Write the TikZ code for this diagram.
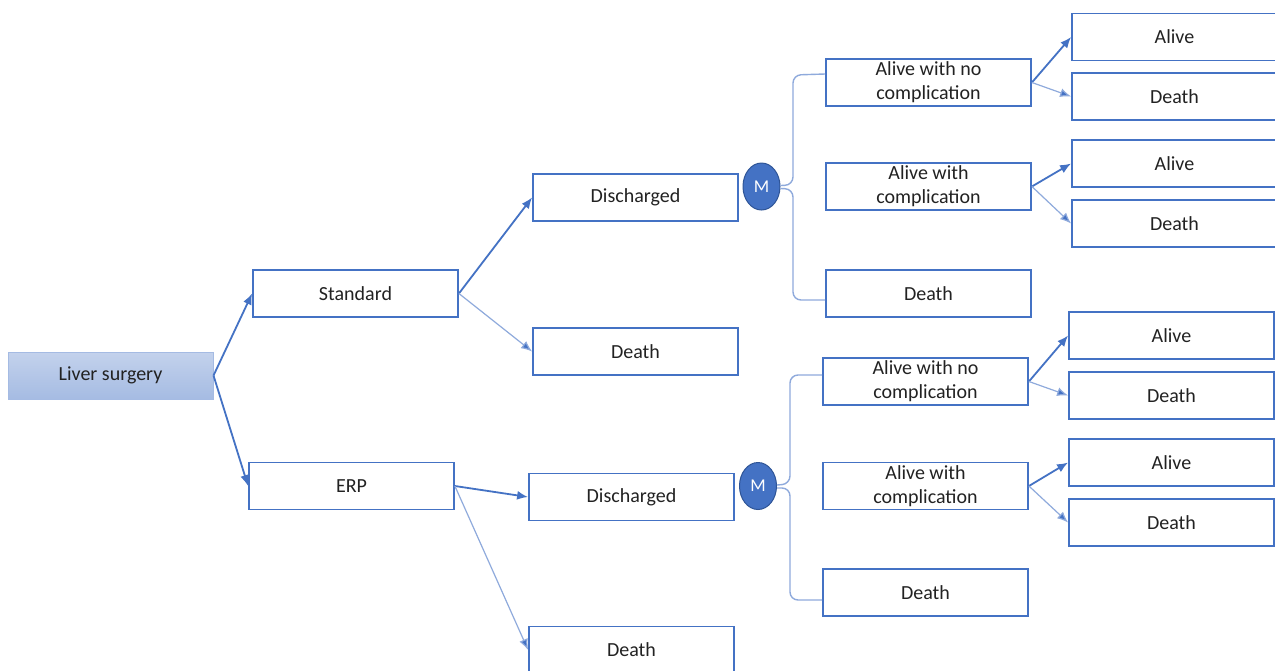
\documentclass[tikz,border=0pt]{standalone}
\usepackage{fontspec}
\setmainfont{Carlito}
\usetikzlibrary{arrows.meta,shapes.geometric}
\definecolor{bblue}{HTML}{4472C4}
\definecolor{lblue}{HTML}{8FAADC}
\definecolor{dblue}{HTML}{2F5597}
\definecolor{txt}{HTML}{222222}
\tikzset{
  box/.style={draw=bblue, line width=1.8pt, minimum width=205pt, minimum height=47pt, inner sep=0pt, align=center, text=txt, font=\fontsize{20}{24}\selectfont},
  root/.style={box, draw=lblue!80, line width=1pt, top color=bblue!32, bottom color=bblue!48},
  mnode/.style={ellipse, draw=dblue, line width=1pt, fill=bblue, minimum width=37pt, minimum height=47pt, inner sep=0pt, text=white, font=\fontsize{18}{20}\selectfont},
  thick arr/.style={draw=bblue, line width=1.8pt, -{Latex[length=11pt,width=9pt]}},
  thin arr/.style={draw=lblue, line width=1.2pt, -{Latex[length=11pt,width=9pt,fill=bblue]}},
  mline/.style={draw=lblue, line width=1.4pt, rounded corners=8pt}
}
\begin{document}
\begin{tikzpicture}[x=1pt,y=-1pt]
\useasboundingbox (0,0) rectangle (1275,670);
\fill[white] (0,0) rectangle (1275,670);
% level 0-2
\node[root] (ls) at (110.5,375.5) {Liver surgery};
\node[box] (std) at (355.5,293.5) {Standard};
\node[box] (erp) at (351.5,486) {ERP};
\node[box] (d1) at (635.5,197.5) {Discharged};
\node[box] (x1) at (635.5,351.5) {Death};
\node[box] (d2) at (631.5,497) {Discharged};
\node[box] (x2) at (631.5,650) {Death};
\node[mnode] (m1) at (761.5,186.5) {M};
\node[mnode] (m2) at (758,486) {M};
% top branch
\node[box] (a1) at (928.5,82.5) {Alive with no\\complication};
\node[box] (c1) at (928.5,186.5) {Alive with\\complication};
\node[box] (e1) at (928.5,293.5) {Death};
\node[box] (a1a) at (1174.5,37) {Alive};
\node[box] (a1d) at (1174.5,96.5) {Death};
\node[box] (c1a) at (1174.5,163.5) {Alive};
\node[box] (c1d) at (1174.5,223.5) {Death};
% bottom branch
\node[box] (a2) at (925.5,381.5) {Alive with no\\complication};
\node[box] (c2) at (925.5,486) {Alive with\\complication};
\node[box] (e2) at (925.5,592.5) {Death};
\node[box] (a2a) at (1171.5,335.5) {Alive};
\node[box] (a2d) at (1171.5,395.5) {Death};
\node[box] (c2a) at (1171.5,462.5) {Alive};
\node[box] (c2d) at (1171.5,522.5) {Death};
% arrows
\draw[thick arr] (ls.east) -- (std.west);
\draw[thick arr] (ls.east) -- (erp.west);
\draw[thick arr] (std.east) -- (d1.west);
\draw[thin arr] (std.east) -- (x1.west);
\draw[thick arr] (erp.east) -- (d2.west);
\draw[thin arr] (erp.east) -- (x2.west);
\draw[thick arr] (a1.east) -- (a1a.west);
\draw[thin arr] (a1.east) -- (a1d.west);
\draw[thick arr] (c1.east) -- (c1a.west);
\draw[thin arr] (c1.east) -- (c1d.west);
\draw[thick arr] (a2.east) -- (a2a.west);
\draw[thin arr] (a2.east) -- (a2d.west);
\draw[thick arr] (c2.east) -- (c2a.west);
\draw[thin arr] (c2.east) -- (c2d.west);
% M brackets
\draw[mline] ([yshift=1pt]m1.east) -- (793,185) -- (793,75) -- ([yshift=8.5pt]a1.west);
\draw[mline] ([yshift=-2pt]m1.east) -- (793,189) -- (793,300) -- ([yshift=-6.5pt]e1.west);
\draw[mline] ([yshift=1pt]m2.east) -- (790,484) -- (790,375) -- ([yshift=6.5pt]a2.west);
\draw[mline] ([yshift=-2pt]m2.east) -- (790,488) -- (790,600) -- ([yshift=-7.5pt]e2.west);
\end{tikzpicture}
\end{document}
